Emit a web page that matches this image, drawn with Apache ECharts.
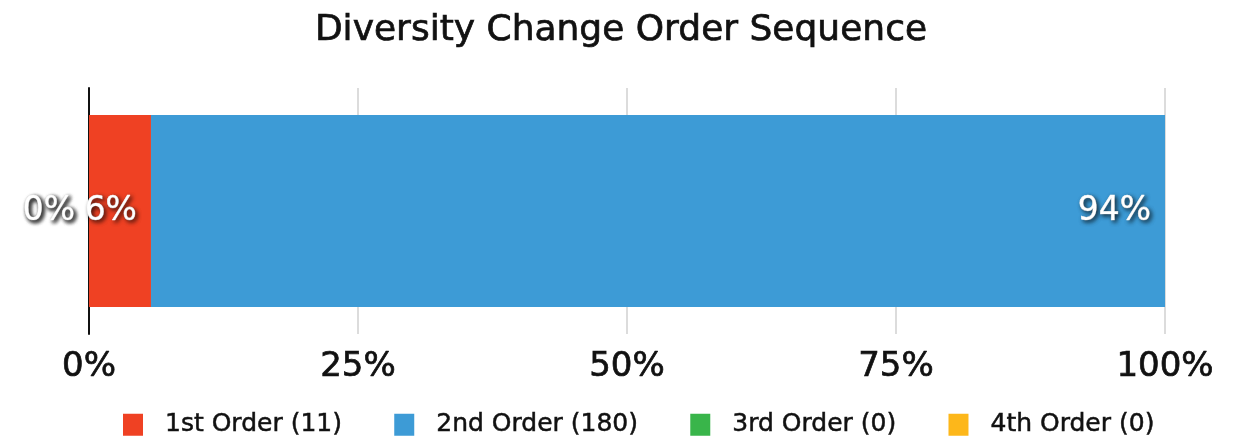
<!DOCTYPE html>
<html>
<head>
<meta charset="utf-8">
<script src="https://cdn.jsdelivr.net/npm/echarts@6/dist/echarts.min.js"></script>
<style>
  html, body { margin: 0; padding: 0; background: #fff; }
  #main { width: 1242px; height: 439px; }
</style>
</head>
<body>
<div id="main"></div>
<script>
const categories = ['Sequence']
const seriesNames = ['1st Order', '2nd Order', '3rd Order', '4th Order']
const counts = [11, 180, 0, 0]
const percents = [5.76, 94.24, 0, 0]
const tickValues = [0, 25, 50, 75, 100]
const colors = ['#EF4123', '#3D9BD6', '#39B54A', '#FDB71A']

const font = 'DejaVu Sans'
const ink = '#111'
const myChart = echarts.init(document.getElementById('main'))

const series = seriesNames.map((name, i) => {
  return {
    name: `${name} (${counts[i]})`,
    type: 'bar',
    // zero-value orders sit at the start of the axis, like the original
    stack: percents[i] > 0 ? 'orders' : 'empty' + i,
    barWidth: 192,
    barGap: '-100%',
    itemStyle: { color: colors[i] },
    label: {
      show: true,
      position: 'insideRight',
      distance: 14,
      formatter: p => Math.round(p.value) + '%',
      color: '#fff',
      fontFamily: font,
      fontSize: 33,
      textBorderColor: '#fff',
      textBorderWidth: 0.6,
      textShadowColor: 'rgba(0,0,0,0.75)',
      textShadowBlur: 4,
      textShadowOffsetX: 2,
      textShadowOffsetY: 2
    },
    data: [percents[i]]
  }
})

const option = {
  animation: false,
  title: {
    text: 'Diversity Change Order Sequence',
    left: 'center',
    top: 8,
    textStyle: { fontFamily: font, fontWeight: 'normal', fontSize: 36, color: ink, textBorderColor: ink, textBorderWidth: 0.7 }
  },
  legend: {
    top: 407,
    left: 118,
    itemWidth: 20,
    itemHeight: 22,
    itemGap: 52,
    icon: 'rect',
    textStyle: { fontFamily: font, fontSize: 25, color: ink, textBorderColor: ink, textBorderWidth: 0.5, padding: [0, 0, 0, 17] }
  },
  grid: { left: 89, right: 77, top: 88, bottom: 105 },
  xAxis: {
    type: 'value',
    min: 0,
    max: 100,
    interval: 25,
    axisLine: { show: false },
    axisTick: { show: false },
    splitLine: { lineStyle: { color: '#d0d0d0', width: 1.5 } },
    axisLabel: {
      margin: 16,
      fontFamily: font,
      fontSize: 34,
      color: ink,
      textBorderColor: ink,
      textBorderWidth: 0.7,
      formatter: v => tickValues.includes(v) ? v + '%' : ''
    }
  },
  yAxis: {
    type: 'category',
    data: categories,
    axisLine: { lineStyle: { color: ink, width: 2 } },
    axisTick: { show: false },
    axisLabel: { show: false }
  },
  series: series
}
myChart.setOption(option)
</script>
</body>
</html>
